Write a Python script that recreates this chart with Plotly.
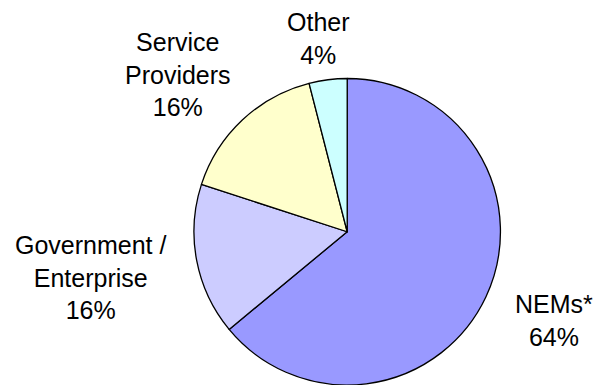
import plotly.graph_objects as go

categories = ["NEMs*", "Government /<br>Enterprise", "Service<br>Providers", "Other"]
shares = [64, 16, 16, 4]
colors = ["#9999FF", "#CCCCFF", "#FFFFCC", "#CCFFFF"]

W, H = 594, 385
# label anchor positions in pixels (x center, y middle)
label_pos = [(554, 320), (91, 277), (178, 75), (318, 38)]

fig = go.Figure(go.Pie(
    labels=categories,
    values=shares,
    sort=False,
    direction="clockwise",
    rotation=0,
    marker=dict(colors=colors, line=dict(color="black", width=1.3)),
    textinfo="none",
    hoverinfo="label+percent",
    domain=dict(x=[192.7 / W, 501.7 / W], y=[0, 1 - 78.5 / H]),
    showlegend=False,
))

for cat, val, (px, py) in zip(categories, shares, label_pos):
    fig.add_annotation(
        x=px / W, y=1 - py / H, xref="paper", yref="paper",
        text=f"{cat}<br>{val}%", showarrow=False,
        xanchor="center", yanchor="middle", align="center",
        font=dict(family="Arial, Liberation Sans, sans-serif", size=25, color="black"),
    )

fig.update_layout(
    width=W, height=H,
    margin=dict(l=0, r=0, t=0, b=0),
    paper_bgcolor="white", plot_bgcolor="white",
)

fig.write_html("out.html")
